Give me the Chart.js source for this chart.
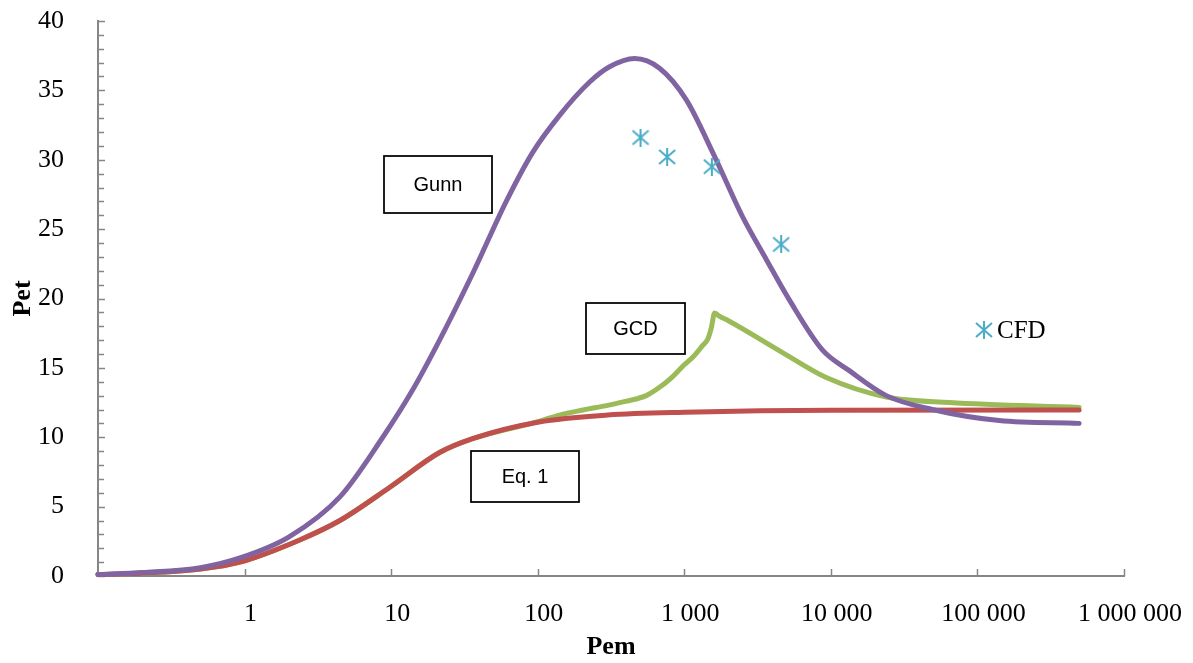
<!DOCTYPE html>
<html>
<head>
<meta charset="utf-8">
<script src="https://cdn.jsdelivr.net/npm/chart.js@4"></script>
<style>
  html, body { margin: 0; padding: 0; background: #fff; }
  #wrap { width: 1193px; height: 663px; }
</style>
</head>
<body>
<div id="wrap"><canvas id="petChart" width="1193" height="663"></canvas></div>
<script>
// x tick positions and their labels
const pemTicks = [1, 10, 100, 1000, 10000, 100000, 1000000];
const pemTickLabels = ['1', '10', '100', '1 000', '10 000', '100 000', '1 000 000'];

// Gunn curve
const gunnPem = [0.1, 0.2, 0.5, 0.93, 2, 4.47, 8.77, 14, 21.4, 36, 61, 92, 141, 226, 309, 458, 678, 1035, 1600, 2496, 3635, 5210, 8750, 13360, 23900, 49200, 141000, 494000];
const gunnPet = [0.1, 0.25, 0.6, 1.3, 2.8, 5.7, 10.0, 13.4, 17.0, 21.8, 27.0, 30.5, 33.2, 35.6, 36.7, 37.3, 36.6, 34.3, 30.3, 25.9, 22.8, 19.9, 16.3, 14.8, 13.0, 12.0, 11.2, 11.0];

// Eq. 1 curve
const eqPem = [0.1, 0.2, 0.5, 0.93, 2.38, 4.47, 9.8, 21.4, 36, 102, 300, 1000, 10000, 494000];
const eqPet = [0.1, 0.2, 0.5, 1.0, 2.6, 4.0, 6.4, 8.9, 9.9, 11.1, 11.6, 11.8, 11.95, 11.96];

// GCD curve
const gcdPem = [0.1, 0.2, 0.5, 0.93, 2.38, 4.47, 9.8, 21.4, 36, 102, 141, 200, 300, 404, 550, 678, 820, 973, 1150, 1330, 1450, 1530, 1610, 1750, 2000, 4680, 9300, 23900, 64300, 494000];
const gcdPet = [0.1, 0.2, 0.5, 1.0, 2.6, 4.0, 6.4, 8.9, 9.9, 11.15, 11.6, 11.95, 12.3, 12.6, 13.0, 13.6, 14.3, 15.1, 15.8, 16.6, 17.1, 17.9, 18.95, 18.7, 18.4, 16.1, 14.3, 12.9, 12.5, 12.15];

// CFD points
const cfdPem = [503, 764, 1542, 4580];
const cfdPet = [31.6, 30.2, 29.5, 23.9];

function pairs(xs, ys) {
    return xs.map(function(x, i) { return { x: x, y: ys[i] }; });
}

// asterisk marker like the spreadsheet one
function makeStar(color) {
    let c = document.createElement('canvas');
    c.width = 18;
    c.height = 18;
    let g = c.getContext('2d');
    g.strokeStyle = color;
    g.lineWidth = 2;
    g.beginPath();
    g.moveTo(9, 0); g.lineTo(9, 18);
    g.moveTo(1, 2); g.lineTo(17, 16);
    g.moveTo(1, 16); g.lineTo(17, 2);
    g.stroke();
    return c;
}

const starImg = makeStar('#4BACC6');
const axisColor = '#868686';
const serif = 'Liberation Serif';
const sans = 'Liberation Sans';

function noScalePadding(scale) {
    scale.paddingTop = 0;
    scale.paddingBottom = 0;
    scale.paddingLeft = 0;
    scale.paddingRight = 0;
}

// inner tick marks, text boxes and the CFD legend
const decorPlugin = {
    id: 'decor',
    beforeDatasetsDraw: function(chart) {
        const ctx = chart.ctx;
        const xs = chart.scales.x;
        const ys = chart.scales.y;
        const area = chart.chartArea;
        ctx.save();
        ctx.strokeStyle = axisColor;
        ctx.lineWidth = 1.5;
        ctx.beginPath();
        for (let v = 0; v <= 40; v++) {
            const py = Math.round(ys.getPixelForValue(v)) + 0.5;
            const len = v % 5 === 0 ? 7 : 6;
            ctx.moveTo(area.left, py);
            ctx.lineTo(area.left + len, py);
        }
        pemTicks.forEach(function(v) {
            const px = Math.round(xs.getPixelForValue(v)) + 0.5;
            ctx.moveTo(px, area.bottom);
            ctx.lineTo(px, area.bottom - 7);
        });
        ctx.stroke();
        ctx.restore();
    },
    afterDraw: function(chart) {
        const ctx = chart.ctx;
        ctx.save();
        const boxes = [
            { text: 'Gunn', x: 384, y: 156, w: 108, h: 57 },
            { text: 'GCD', x: 586, y: 303, w: 99, h: 51 },
            { text: 'Eq. 1', x: 471, y: 451, w: 108, h: 51 }
        ];
        ctx.lineWidth = 1.75;
        ctx.strokeStyle = '#000';
        ctx.font = '20px "' + sans + '"';
        ctx.textAlign = 'center';
        ctx.textBaseline = 'middle';
        boxes.forEach(function(b) {
            ctx.fillStyle = '#fff';
            ctx.fillRect(b.x, b.y, b.w, b.h);
            ctx.strokeRect(b.x, b.y, b.w, b.h);
            ctx.fillStyle = '#000';
            ctx.fillText(b.text, b.x + b.w / 2, b.y + b.h / 2 + 1);
        });

        // legend
        ctx.drawImage(starImg, 984 - 9, 330 - 9);
        ctx.fillStyle = '#000';
        ctx.font = '25px "' + serif + '"';
        ctx.textAlign = 'left';
        ctx.fillText('CFD', 997, 331);
        ctx.restore();
    }
};

const ctx = document.getElementById('petChart').getContext('2d');
const petChart = new Chart(ctx, {
    type: 'line',
    data: {
        datasets: [
            {
                label: 'CFD',
                data: pairs(cfdPem, cfdPet),
                showLine: false,
                pointStyle: starImg,
                pointRadius: 9,
                order: 0
            },
            {
                label: 'Gunn',
                data: pairs(gunnPem, gunnPet),
                borderColor: '#8064A2',
                borderWidth: 5,
                pointRadius: 0,
                cubicInterpolationMode: 'monotone',
                borderCapStyle: 'round',
                borderJoinStyle: 'round',
                clip: false,
                order: 1
            },
            {
                label: 'Eq. 1',
                data: pairs(eqPem, eqPet),
                borderColor: '#C0504D',
                borderWidth: 5,
                pointRadius: 0,
                cubicInterpolationMode: 'monotone',
                borderCapStyle: 'round',
                borderJoinStyle: 'round',
                clip: false,
                order: 2
            },
            {
                label: 'GCD',
                data: pairs(gcdPem, gcdPet),
                borderColor: '#9BBB59',
                borderWidth: 5,
                pointRadius: 0,
                cubicInterpolationMode: 'monotone',
                borderCapStyle: 'round',
                borderJoinStyle: 'round',
                clip: false,
                order: 3
            }
        ]
    },
    options: {
        responsive: false,
        animation: false,
        devicePixelRatio: 1,
        layout: {
            padding: { left: 0, top: 21, right: 69, bottom: 0 }
        },
        plugins: {
            legend: { display: false },
            tooltip: { enabled: false }
        },
        scales: {
            x: {
                type: 'logarithmic',
                min: 0.1,
                max: 1000000,
                grid: { display: false },
                border: { display: true, color: axisColor, width: 2 },
                afterBuildTicks: function(scale) {
                    scale.ticks = pemTicks.map(function(v) { return { value: v }; });
                },
                afterFit: function(scale) {
                    scale.height = 87;
                    noScalePadding(scale);
                },
                ticks: {
                    autoSkip: false,
                    maxRotation: 0,
                    padding: 15,
                    labelOffset: 6,
                    color: '#000',
                    font: { family: serif, size: 26 },
                    callback: function(value, index) {
                        return pemTickLabels[index];
                    }
                },
                title: {
                    display: true,
                    text: 'Pem',
                    color: '#000',
                    font: { family: serif, size: 26, weight: 'bold' },
                    padding: { top: 0, bottom: 0 }
                }
            },
            y: {
                type: 'linear',
                min: 0,
                max: 40,
                grid: { display: false },
                border: { display: true, color: axisColor, width: 2 },
                afterFit: function(scale) {
                    scale.width = 98;
                    noScalePadding(scale);
                },
                ticks: {
                    stepSize: 5,
                    padding: 26,
                    color: '#000',
                    font: { family: serif, size: 26 }
                },
                title: {
                    display: true,
                    text: 'Pet',
                    color: '#000',
                    font: { family: serif, size: 26, weight: 'bold' },
                    padding: { top: 8, bottom: 0 }
                }
            }
        }
    },
    plugins: [decorPlugin]
});
</script>
</body>
</html>
